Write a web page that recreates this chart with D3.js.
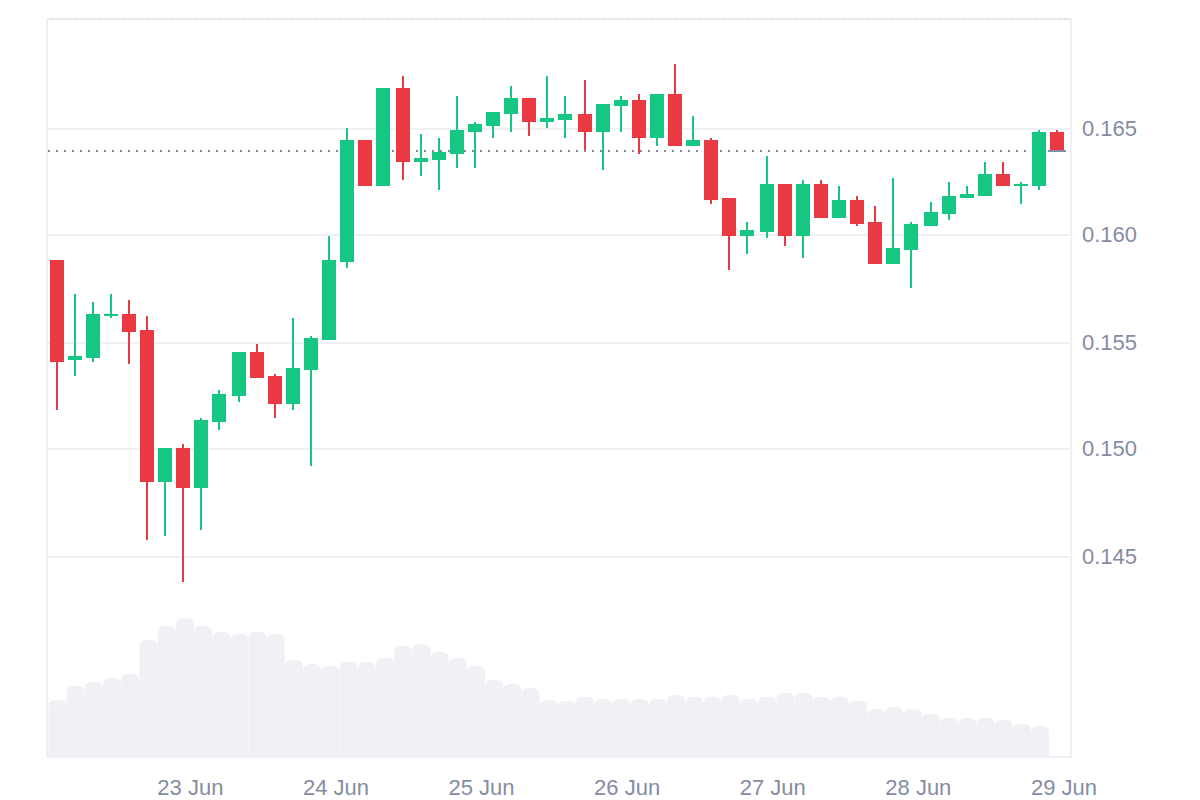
<!DOCTYPE html>
<html>
<head>
<meta charset="utf-8">
<script src="https://cdn.jsdelivr.net/npm/d3@7"></script>
<style>
  html, body { margin: 0; padding: 0; background: #fff; }
  text { font-family: "Liberation Sans", Arial, sans-serif; }
</style>
</head>
<body>
<svg id="chart"></svg>
<script>
// 3h candles, 22 Jun 02:00 onwards
const firstCandle = new Date("2024-06-22T02:00:00Z");
const opens = [.15888,.15421,.15430,.15626,.15636,.15561,.14850,.15009,.14822,.15131,.15252,.15458,.15346,.15215,.15374,.15514,
  .15879,.16449,.16234,.16692,.16346,.16355,.16383,.16486,.16514,.16570,.16645,.16533,.16542,.16570,.16486,.16607,.16636,.16458,.16664,.16421,
  .16449,.16178,.16000,.16019,.16243,.16000,.16243,.16084,.16168,.16065,.15869,.15935,.16047,.16103,.16178,.16187,.16290,.16234,.16234,.16486];
const closes = [.15411,.15439,.15636,.15636,.15551,.14850,.15009,.14822,.15140,.15262,.15458,.15336,.15215,.15383,.15523,.15888,
  .16449,.16234,.16692,.16346,.16364,.16393,.16495,.16523,.16579,.16645,.16533,.16551,.16570,.16486,.16617,.16636,.16458,.16664,.16421,.16449,
  .16168,.16000,.16028,.16243,.16000,.16243,.16084,.16168,.16056,.15869,.15944,.16056,.16112,.16187,.16196,.16290,.16234,.16243,.16486,.16393];
const highs = [.15888,.15729,.15692,.15729,.15701,.15626,.15009,.15028,.15150,.15280,.15458,.15495,.15355,.15617,.15533,.16000,
  .16505,.16449,.16692,.16748,.16477,.16458,.16654,.16533,.16579,.16701,.16645,.16748,.16654,.16729,.16617,.16654,.16664,.16664,.16804,.16561,
  .16458,.16178,.16065,.16374,.16243,.16262,.16262,.16234,.16187,.16140,.16271,.16065,.16159,.16252,.16234,.16346,.16346,.16252,.16495,.16495];
const lows = [.15187,.15346,.15411,.15617,.15402,.14579,.14598,.14383,.14626,.15093,.15224,.15336,.15150,.15187,.14925,.15514,
  .15850,.16234,.16234,.16262,.16280,.16215,.16318,.16318,.16458,.16486,.16467,.16505,.16458,.16402,.16308,.16486,.16383,.16421,.16421,.16421,
  .16150,.15841,.15916,.15991,.15953,.15897,.16084,.16084,.16047,.15869,.15869,.15757,.16047,.16075,.16178,.16187,.16234,.16150,.16215,.16393];
const volumes = [57,71,75,79,83,117,131,139,131,125,123,125,123,97,93,91,95,95,99,111,113,105,99,91,77,73,69,57,
  56,60,58,58,58,58,62,60,60,62,58,60,64,64,60,60,56,48,50,48,43,39,39,39,37,33,31];
const lastPrice = 0.16399;
const priceTicks = [0.145, 0.150, 0.155, 0.160, 0.165];
const dayTicks = ["2024-06-23","2024-06-24","2024-06-25","2024-06-26","2024-06-27","2024-06-28","2024-06-29"];

const width = 1200, height = 800;
const plot = { left: 47, right: 1071, top: 19, bottom: 757 };
const up = "#16c784", down = "#ea3943", gridColor = "#eff0f5", labelColor = "#858ca2";

const vis = d3.select("#chart").attr("width", width).attr("height", height).style("display", "block");

const times = opens.map((d, i) => d3.utcHour.offset(firstCandle, 3 * i));
const xScale = d3.scaleUtc()
  .domain([new Date("2024-06-22T00:22:00Z"), new Date("2024-06-29T01:10:00Z")])
  .range([plot.left, plot.right]);
const candleX = d3.scalePoint().domain(times).range([56.1, 1057.46]);
const yScale = d3.scaleLinear().domain([0.145, 0.165]).range([557, 129]);
const volScale = d3.scaleLinear().domain([0, 139]).range([plot.bottom, plot.bottom - 139]);

// the reference sits on a 2px grid, always on odd pixels for lines
const odd = v => 2 * Math.round((v - 1) / 2) + 1;
const px = v => Math.round(yScale(v));

// frame
vis.append("rect")
  .attr("x", plot.left).attr("y", plot.top)
  .attr("width", plot.right - plot.left).attr("height", plot.bottom - plot.top)
  .attr("fill", "none").attr("stroke", gridColor).attr("stroke-width", 2);
vis.append("line")
  .attr("x1", 50).attr("x2", 1068)
  .attr("y1", plot.top).attr("y2", plot.top)
  .attr("stroke", "#cfd2dc").attr("stroke-width", 1.5).attr("stroke-dasharray", "1 2");

// price axis, tick lines serve as grid
const yAxis = d3.axisRight(yScale).tickValues(priceTicks).tickFormat(d3.format(".3f")).tickSize(0).tickPadding(11).offset(0);
const yAxisPlot = vis.append("g")
  .attr("transform", "translate(" + plot.right + ",0)")
  .call(yAxis);
yAxisPlot.select(".domain").remove();
yAxisPlot.selectAll(".tick")
  .attr("transform", d => "translate(0," + (2 * Math.ceil(yScale(d) / 2) - 1) + ")");
yAxisPlot.selectAll(".tick line")
  .attr("x1", plot.left - plot.right).attr("x2", 0)
  .attr("stroke", gridColor).attr("stroke-width", 2);
yAxisPlot.selectAll(".tick text").attr("fill", labelColor).style("font-size", "22px");

// time axis
const xAxis = d3.axisBottom(xScale)
  .tickValues(dayTicks.map(d => new Date(d + "T00:00:00Z")))
  .tickFormat(d3.utcFormat("%-d %b")).tickSize(0).tickPadding(22).offset(0);
const xAxisPlot = vis.append("g")
  .attr("transform", "translate(0," + plot.bottom + ")")
  .call(xAxis);
xAxisPlot.select(".domain").remove();
xAxisPlot.selectAll(".tick text").attr("fill", labelColor).style("font-size", "22px");

// volume bars
const barW = 18.1, r = 6;
vis.append("g").selectAll("path").data(volumes).join("path")
  .attr("fill", "#f0f1f5")
  .attr("d", (d, i) => {
    const x0 = xScale(times[i]) + 0.5 - barW / 2, x1 = x0 + barW, y0 = volScale(d), y1 = plot.bottom;
    return `M${x0},${y1}V${y0 + r}A${r},${r} 0 0 1 ${x0 + r},${y0}H${x1 - r}A${r},${r} 0 0 1 ${x1},${y0 + r}V${y1}Z`;
  });

// last price
const lastY = 2 * Math.floor(yScale(lastPrice) / 2) + 1;
vis.append("line")
  .attr("x1", 48).attr("x2", 1066)
  .attr("y1", lastY).attr("y2", lastY)
  .attr("stroke", labelColor).attr("stroke-width", 2).attr("stroke-dasharray", "2 6");

// candles
const candles = vis.append("g").selectAll("g").data(times).join("g")
  .attr("fill", (d, i) => closes[i] >= opens[i] ? up : down);
candles.append("rect")
  .attr("x", d => odd(candleX(d)) - 1).attr("width", 2)
  .attr("y", (d, i) => px(highs[i]))
  .attr("height", (d, i) => px(lows[i]) - px(highs[i]));
candles.append("rect")
  .attr("x", d => odd(candleX(d)) - 7).attr("width", 14)
  .attr("y", (d, i) => px(Math.max(opens[i], closes[i])))
  .attr("height", (d, i) => Math.max(2, px(Math.min(opens[i], closes[i])) - px(Math.max(opens[i], closes[i]))));

// solid tip of the price line on top of the last candle
vis.append("line")
  .attr("x1", 1048).attr("x2", 1066)
  .attr("y1", lastY).attr("y2", lastY)
  .attr("stroke", labelColor).attr("stroke-width", 2);
</script>
</body>
</html>
